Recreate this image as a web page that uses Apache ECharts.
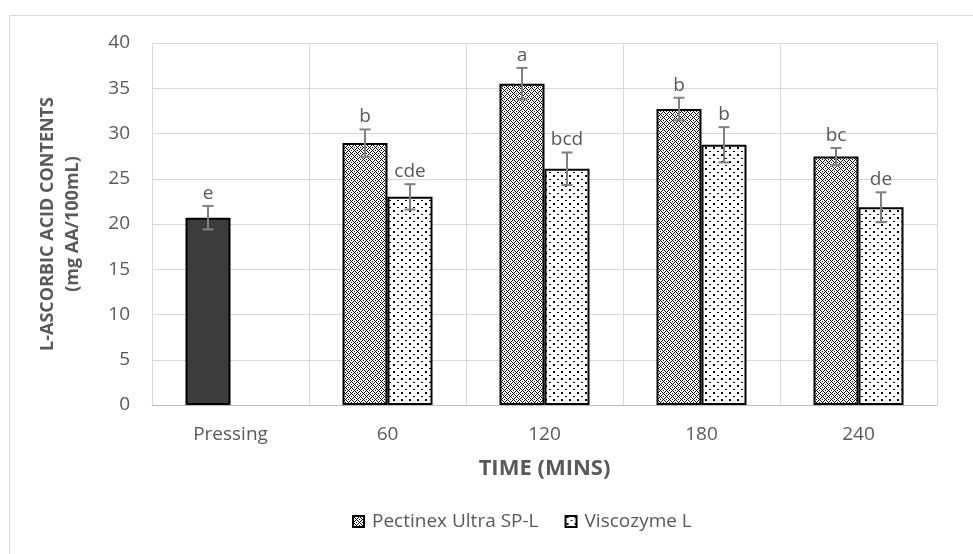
<!DOCTYPE html>
<html><head><meta charset="utf-8">
<script src="https://cdn.jsdelivr.net/npm/echarts@6/dist/echarts.min.js"></script>
<style>html,body{margin:0;padding:0;background:#fff}#c{width:973px;height:554px}</style>
</head><body><div id="c"></div>
<script>
// ---- data ----
const categories = ['Pressing', '60', '120', '180', '240'];
const pectinex = [20.7, 28.95, 35.5, 32.7, 27.45];
const pectinexErr = [1.3, 1.5, 1.75, 1.25, 0.95];
const pectinexLetters = ['e', 'b', 'a', 'b', 'bc'];
const viscozyme = [null, 23.0, 26.1, 28.75, 21.85];
const viscozymeErr = [null, 1.4, 1.8, 1.95, 1.65];
const viscozymeLetters = ['', 'cde', 'bcd', 'b', 'de'];
const yTicks = { min: 0, max: 40, interval: 5 };

// ---- patterns ----
function makeTile(w, h, fn) {
  const c = document.createElement('canvas');
  c.width = w; c.height = h;
  const ctx = c.getContext('2d');
  ctx.fillStyle = '#fff'; ctx.fillRect(0, 0, w, h);
  ctx.fillStyle = '#000';
  for (let y = 0; y < h; y++) for (let x = 0; x < w; x++) if (fn(x, y)) ctx.fillRect(x, y, 1, 1);
  return c;
}
const checkTile = makeTile(6, 6, (x, y) => ((x + y) % 6 === 0) || (((x - y) % 6 + 6) % 6 === 0) || (x === 3 && y === 0) || (x === 0 && y === 3));
const dotTile = makeTile(8, 7, (x, y) => ((x === 1 || x === 2) && (y === 0 || y === 1)) || ((x === 5 || x === 6) && y === 4));
const pectinexFill = { image: checkTile, repeat: 'repeat' };
const viscozymeFill = { image: dotTile, repeat: 'repeat' };

const FONT = '"Open Sans", sans-serif';
const GREY = '#595959';
const BAR_W = 45;

function errData(vals, errs) {
  const out = [];
  vals.forEach((v, i) => { if (v != null) out.push([i, v, errs[i]]); });
  return out;
}
function errRenderer(offset, letters) {
  return function (params, api) {
    const i = api.value(0), v = api.value(1), e = api.value(2);
    const letter = letters[i] || '';
    const c = api.coord([i, v]);
    const hi = api.coord([i, v + e]);
    const lo = api.coord([i, v - e]);
    const x = c[0] + offset;
    const cap = 5.5;
    const ls = { stroke: '#808080', lineWidth: 2 };
    return {
      type: 'group',
      children: [
        { type: 'line', shape: { x1: x, y1: hi[1], x2: x, y2: lo[1] }, style: ls },
        { type: 'line', shape: { x1: x - cap, y1: hi[1], x2: x + cap, y2: hi[1] }, style: ls },
        { type: 'line', shape: { x1: x - cap, y1: lo[1], x2: x + cap, y2: lo[1] }, style: ls },
        { type: 'text', x: x, y: hi[1] - 3, style: { text: letter, align: 'center', verticalAlign: 'bottom', fill: GREY, fontFamily: FONT, fontSize: 19 } }
      ]
    };
  };
}

const pectData = pectinex.map((v, i) => i === 0 ? { value: v, itemStyle: { color: '#3c3c3c' } } : v);

const chart = echarts.init(document.getElementById('c'));
chart.setOption({
  animation: false,
  backgroundColor: '#fff',
  graphic: [{ type: 'rect', silent: true, z: -10, shape: { x: 9.5, y: 15.5, width: 1200, height: 1000 }, style: { fill: 'none', stroke: '#d9d9d9', lineWidth: 1 } }],
  grid: { left: 152, right: 36, top: 43, bottom: 149, containLabel: false },
  legend: {
    data: ['Pectinex Ultra SP-L', 'Viscozyme L'],
    bottom: 18, left: 347,
    itemWidth: 11, itemHeight: 11, itemGap: 26,
    textStyle: { color: GREY, fontFamily: FONT, fontSize: 19, padding: [0, 0, 0, 3] },
    icon: 'rect'
  },
  xAxis: {
    type: 'category', data: categories,
    axisLine: { lineStyle: { color: '#bfbfbf', width: 1 } },
    axisTick: { show: false },
    axisLabel: { color: GREY, fontFamily: FONT, fontSize: 19, margin: 20 },
    splitLine: { show: true, lineStyle: { color: '#d9d9d9', width: 1 } },
    name: 'TIME (MINS)', nameLocation: 'middle', nameGap: 53,
    nameTextStyle: { color: GREY, fontFamily: FONT, fontSize: 22, fontWeight: 'bold' }
  },
  yAxis: {
    type: 'value', min: yTicks.min, max: yTicks.max, interval: yTicks.interval,
    axisLine: { show: false }, axisTick: { show: false },
    axisLabel: { color: GREY, fontFamily: FONT, fontSize: 19, margin: 22 },
    splitLine: { lineStyle: { color: '#d9d9d9', width: 1 } },
    name: 'L-ASCORBIC ACID CONTENTS\n(mg AA/100mL)', nameLocation: 'middle', nameGap: 67,
    nameTextStyle: { color: GREY, fontFamily: FONT, fontSize: 18, fontWeight: 'bold', lineHeight: 25 }
  },
  series: [
    { name: 'Pectinex Ultra SP-L', type: 'bar', data: pectData, barWidth: BAR_W, barGap: '0%',
      itemStyle: { color: pectinexFill, borderColor: '#000', borderWidth: 2 } },
    { name: 'Viscozyme L', type: 'bar', data: viscozyme, barWidth: BAR_W, barGap: '0%',
      itemStyle: { color: viscozymeFill, borderColor: '#000', borderWidth: 2 } },
    { name: 'errP', type: 'custom', z: 5, renderItem: errRenderer(-BAR_W / 2, pectinexLetters), encode: { x: 0, y: 1 },
      data: errData(pectinex, pectinexErr) },
    { name: 'errV', type: 'custom', z: 5, renderItem: errRenderer(BAR_W / 2, viscozymeLetters), encode: { x: 0, y: 1 },
      data: errData(viscozyme, viscozymeErr) }
  ]
});
</script></body></html>
